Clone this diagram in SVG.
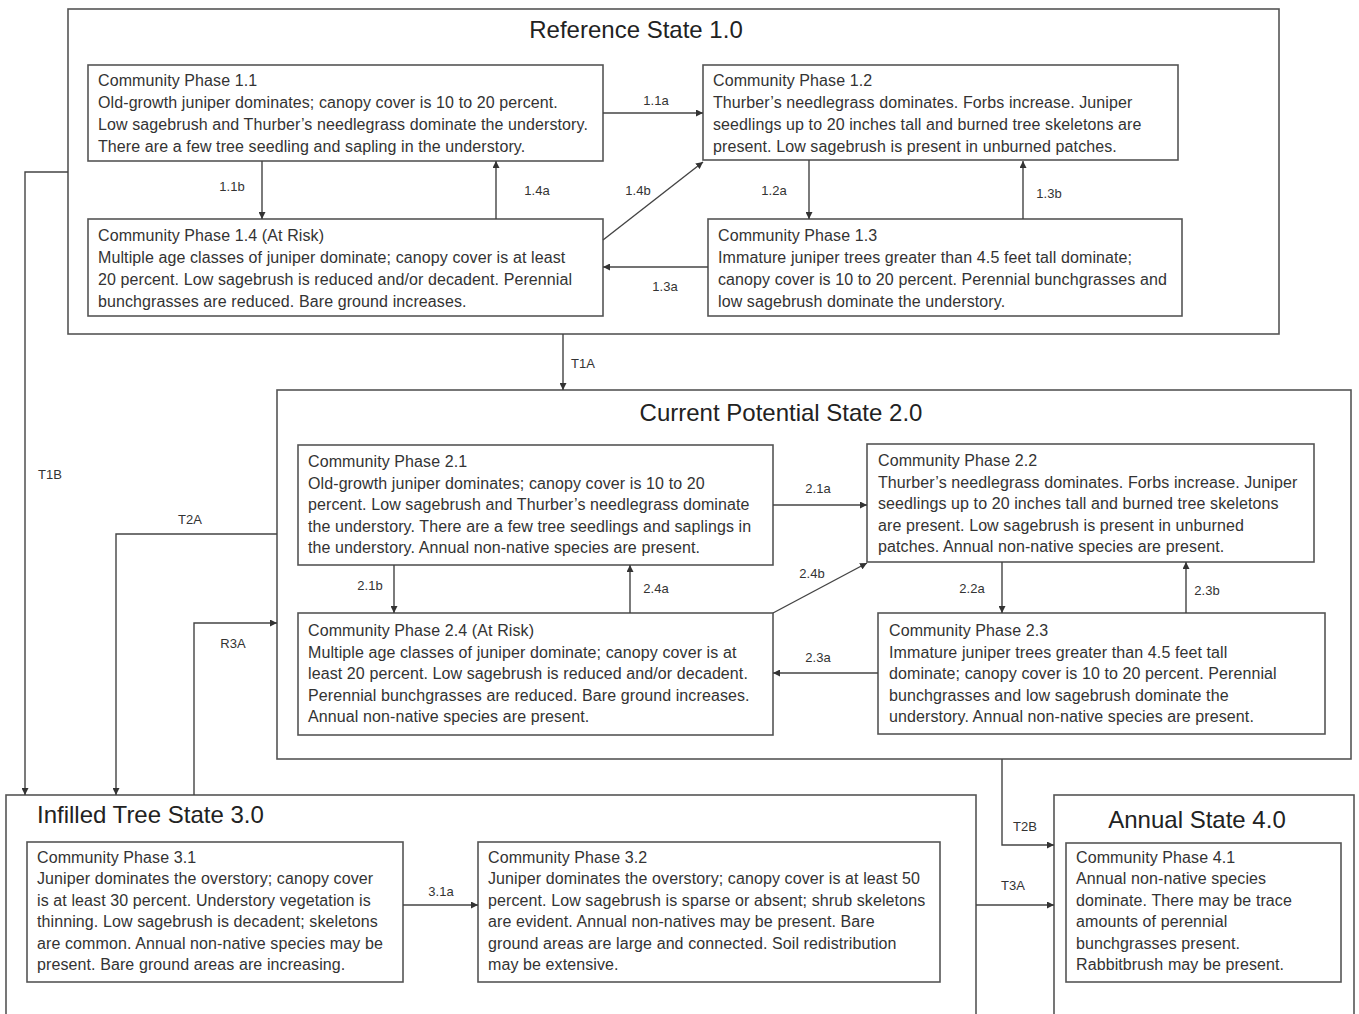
<svg xmlns="http://www.w3.org/2000/svg" width="1359" height="1014" viewBox="0 0 1359 1014">
<defs>
<marker id="ah" viewBox="0 0 10 10" refX="10" refY="5" markerWidth="7" markerHeight="7" orient="auto" markerUnits="userSpaceOnUse">
<path d="M0,0 L10,5 L0,10 z" fill="#333"/>
</marker>
</defs>
<style>
.st{fill:#fff;stroke:#555;stroke-width:1.6}
.ph{fill:#fff;stroke:#555;stroke-width:1.6}
.tt{font-family:"Liberation Sans",Arial,sans-serif;font-size:24px;fill:#222}
.tx{font-family:"Liberation Sans",Arial,sans-serif;font-size:16px;letter-spacing:0.1px;fill:#333}
.lb{font-family:"Liberation Sans",Arial,sans-serif;font-size:13px;fill:#333;text-anchor:middle}
.cn{fill:none;stroke:#444;stroke-width:1.4}
.ar{marker-end:url(#ah)}
</style>
<rect width="1359" height="1014" fill="#fff"/>

<g id="state1">
<rect class="st" x="68" y="9" width="1211" height="325"/>
<text class="tt" x="636" y="38" text-anchor="middle">Reference State 1.0</text>
</g>
<g id="state2">
<rect class="st" x="277" y="390" width="1074" height="369"/>
<text class="tt" x="781" y="421" text-anchor="middle">Current Potential State 2.0</text>
</g>
<g id="state3">
<rect class="st" x="6" y="795" width="970" height="240"/>
<text class="tt" x="37" y="823">Infilled Tree State 3.0</text>
</g>
<g id="state4">
<rect class="st" x="1054" y="795" width="300" height="240"/>
<text class="tt" x="1197" y="828" text-anchor="middle">Annual State 4.0</text>
</g>

<g id="cp11">
<rect class="ph" x="88" y="65" width="515" height="96"/>
<text class="tx" x="98" y="86"><tspan x="98">Community  Phase 1.1</tspan><tspan x="98" dy="22">Old-growth juniper dominates; canopy cover is 10 to 20 percent.</tspan><tspan x="98" dy="22">Low sagebrush and Thurber’s needlegrass dominate the understory.</tspan><tspan x="98" dy="22">There are a few tree seedling and sapling in the understory.</tspan></text>
</g>
<g id="cp12">
<rect class="ph" x="703" y="65" width="475" height="95"/>
<text class="tx" x="713" y="86"><tspan x="713">Community  Phase 1.2</tspan><tspan x="713" dy="22">Thurber’s needlegrass dominates. Forbs increase. Juniper</tspan><tspan x="713" dy="22">seedlings up to 20 inches tall and burned tree skeletons are</tspan><tspan x="713" dy="22">present. Low sagebrush is present in unburned  patches.</tspan></text>
</g>
<g id="cp14">
<rect class="ph" x="88" y="219" width="515" height="97"/>
<text class="tx" x="98" y="241"><tspan x="98">Community  Phase 1.4 (At Risk)</tspan><tspan x="98" dy="22">Multiple age classes of juniper dominate; canopy cover is at least</tspan><tspan x="98" dy="22">20 percent. Low sagebrush is reduced and/or decadent. Perennial</tspan><tspan x="98" dy="22">bunchgrasses are reduced. Bare ground increases.</tspan></text>
</g>
<g id="cp13">
<rect class="ph" x="708" y="219" width="474" height="97"/>
<text class="tx" x="718" y="241"><tspan x="718">Community  Phase 1.3</tspan><tspan x="718" dy="22">Immature  juniper trees greater than 4.5 feet tall dominate;</tspan><tspan x="718" dy="22">canopy cover is 10 to 20 percent. Perennial bunchgrasses and</tspan><tspan x="718" dy="22">low sagebrush dominate the understory.</tspan></text>
</g>

<g id="cp21">
<rect class="ph" x="298" y="445" width="475" height="120"/>
<text class="tx" x="308" y="467"><tspan x="308">Community  Phase 2.1</tspan><tspan x="308" dy="21.5">Old-growth juniper dominates; canopy cover is 10 to 20</tspan><tspan x="308" dy="21.5">percent. Low sagebrush and Thurber’s needlegrass dominate</tspan><tspan x="308" dy="21.5">the understory.  There are a few tree seedlings and saplings in</tspan><tspan x="308" dy="21.5">the understory.  Annual non-native species are present.</tspan></text>
</g>
<g id="cp22">
<rect class="ph" x="867" y="444" width="447" height="118"/>
<text class="tx" x="878" y="466"><tspan x="878">Community  Phase 2.2</tspan><tspan x="878" dy="21.5">Thurber’s needlegrass dominates. Forbs increase. Juniper</tspan><tspan x="878" dy="21.5">seedlings up to 20 inches tall and burned tree skeletons</tspan><tspan x="878" dy="21.5">are present. Low sagebrush is present in unburned</tspan><tspan x="878" dy="21.5">patches. Annual non-native species are present.</tspan></text>
</g>
<g id="cp24">
<rect class="ph" x="298" y="613" width="475" height="122"/>
<text class="tx" x="308" y="636"><tspan x="308">Community  Phase 2.4 (At Risk)</tspan><tspan x="308" dy="21.5">Multiple age classes of juniper dominate; canopy cover is at</tspan><tspan x="308" dy="21.5">least 20 percent.  Low sagebrush is reduced and/or decadent.</tspan><tspan x="308" dy="21.5">Perennial bunchgrasses are reduced. Bare ground increases.</tspan><tspan x="308" dy="21.5">Annual non-native species are present.</tspan></text>
</g>
<g id="cp23">
<rect class="ph" x="878" y="613" width="447" height="121"/>
<text class="tx" x="889" y="636"><tspan x="889">Community  Phase 2.3</tspan><tspan x="889" dy="21.5">Immature  juniper trees greater than 4.5 feet tall</tspan><tspan x="889" dy="21.5">dominate; canopy cover is 10 to 20 percent. Perennial</tspan><tspan x="889" dy="21.5">bunchgrasses and low sagebrush dominate the</tspan><tspan x="889" dy="21.5">understory. Annual non-native species are present.</tspan></text>
</g>

<g id="cp31">
<rect class="ph" x="27" y="842" width="376" height="140"/>
<text class="tx" x="37" y="863"><tspan x="37">Community  Phase 3.1</tspan><tspan x="37" dy="21.4">Juniper dominates the overstory; canopy cover</tspan><tspan x="37" dy="21.4">is at least 30 percent. Understory  vegetation is</tspan><tspan x="37" dy="21.4">thinning. Low sagebrush is decadent; skeletons</tspan><tspan x="37" dy="21.4">are common.  Annual non-native species may be</tspan><tspan x="37" dy="21.4">present. Bare ground areas are increasing.</tspan></text>
</g>
<g id="cp32">
<rect class="ph" x="478" y="842" width="462" height="140"/>
<text class="tx" x="488" y="863"><tspan x="488">Community  Phase 3.2</tspan><tspan x="488" dy="21.4">Juniper dominates the overstory; canopy cover is at least 50</tspan><tspan x="488" dy="21.4">percent.  Low sagebrush is sparse or absent; shrub skeletons</tspan><tspan x="488" dy="21.4">are evident. Annual non-natives may be present. Bare</tspan><tspan x="488" dy="21.4">ground areas are large and connected. Soil redistribution</tspan><tspan x="488" dy="21.4">may be extensive.</tspan></text>
</g>
<g id="cp41">
<rect class="ph" x="1066" y="843" width="275" height="139"/>
<text class="tx" x="1076" y="863"><tspan x="1076">Community  Phase 4.1</tspan><tspan x="1076" dy="21.4">Annual non-native species</tspan><tspan x="1076" dy="21.4">dominate. There may be trace</tspan><tspan x="1076" dy="21.4">amounts of perennial</tspan><tspan x="1076" dy="21.4">bunchgrasses present.</tspan><tspan x="1076" dy="21.4">Rabbitbrush may be present.</tspan></text>
</g>

<g id="connectors">
<path class="cn ar" d="M603,113 H703"/>
<path class="cn ar" d="M262,161 V219"/>
<path class="cn ar" d="M496,219 V161"/>
<path class="cn ar" d="M603,240 L703,162"/>
<path class="cn ar" d="M809,160 V219"/>
<path class="cn ar" d="M1023,219 V161"/>
<path class="cn ar" d="M708,267 H603"/>
<path class="cn ar" d="M563,334 V390"/>
<path class="cn ar" d="M68,172 H25 V795"/>
<path class="cn ar" d="M277,534 H116 V795"/>
<path class="cn ar" d="M194,795 V623 H277"/>
<path class="cn ar" d="M773,505 H867"/>
<path class="cn ar" d="M394,565 V613"/>
<path class="cn ar" d="M630,613 V565"/>
<path class="cn ar" d="M773,613 L867,563"/>
<path class="cn ar" d="M1002,562 V613"/>
<path class="cn ar" d="M1186,613 V562"/>
<path class="cn ar" d="M878,673 H773"/>
<path class="cn ar" d="M403,905 H478"/>
<path class="cn ar" d="M1002,759 V845 H1054"/>
<path class="cn ar" d="M976,905 H1054"/>
<text class="lb" x="656" y="105">1.1a</text>
<text class="lb" x="232" y="191">1.1b</text>
<text class="lb" x="537" y="195">1.4a</text>
<text class="lb" x="638" y="195">1.4b</text>
<text class="lb" x="774" y="195">1.2a</text>
<text class="lb" x="1049" y="198">1.3b</text>
<text class="lb" x="665" y="291">1.3a</text>
<text class="lb" x="583" y="368">T1A</text>
<text class="lb" x="50" y="479">T1B</text>
<text class="lb" x="190" y="524">T2A</text>
<text class="lb" x="233" y="648">R3A</text>
<text class="lb" x="818" y="493">2.1a</text>
<text class="lb" x="370" y="590">2.1b</text>
<text class="lb" x="656" y="593">2.4a</text>
<text class="lb" x="812" y="578">2.4b</text>
<text class="lb" x="972" y="593">2.2a</text>
<text class="lb" x="1207" y="595">2.3b</text>
<text class="lb" x="818" y="662">2.3a</text>
<text class="lb" x="441" y="896">3.1a</text>
<text class="lb" x="1025" y="831">T2B</text>
<text class="lb" x="1013" y="890">T3A</text>
</g>
</svg>
